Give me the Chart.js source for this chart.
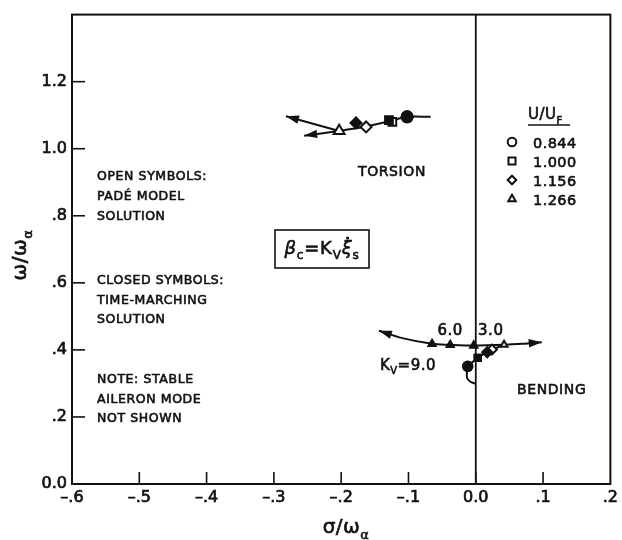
<!DOCTYPE html>
<html>
<head>
<meta charset="utf-8">
<script src="https://cdn.jsdelivr.net/npm/chart.js@4.4.0/dist/chart.umd.min.js"></script>
<style>
  html, body { margin: 0; padding: 0; background: #fff; }
  #wrap { width: 622px; height: 540px; }
</style>
</head>
<body>
<div id="wrap"><canvas id="c" width="622" height="540"></canvas></div>
<script>
// ---- axis tick labels ----
const xTickLabels = ['\u2013.6', '\u2013.5', '\u2013.4', '\u2013.3', '\u2013.2', '\u2013.1', '0.0', '.1', '.2'];
const yTickLabels = ['0.0', '.2', '.4', '.6', '.8', '1.0', '1.2'];

// ---- speed ratio legend (U/U_F) and symbols ----
const speedRatios = ['0.844', '1.000', '1.156', '1.266'];
const speedSymbols = ['circle', 'rect', 'rectRot', 'triangle'];

// ---- torsion branch (K_V = 0) ----
const torsionPathX = [-0.067, -0.102, -0.126, -0.163, -0.203, -0.255];
const torsionPathY = [1.095, 1.095, 1.083, 1.066, 1.053, 1.039];
const torsionBranchX = [-0.203, -0.282];
const torsionBranchY = [1.053, 1.097];
const torsionPadeX = [-0.102, -0.124, -0.163, -0.203];
const torsionPadeY = [1.095, 1.080, 1.065, 1.053];
const torsionTimeX = [-0.102, -0.129, -0.178];
const torsionTimeY = [1.095, 1.085, 1.077];

// ---- bending branch (K_V = 0), rising with U/U_F ----
const bendingPathX = [0.000, -0.008, -0.013, -0.013, -0.012, 0.003, 0.019, 0.042];
const bendingPathY = [0.299, 0.305, 0.317, 0.337, 0.351, 0.375, 0.396, 0.415];
const bendingPadeX = [-0.012, 0.003, 0.024, 0.042];
const bendingPadeY = [0.351, 0.376, 0.401, 0.415];
const bendingTimeX = [-0.012, 0.003, 0.017];
const bendingTimeY = [0.351, 0.376, 0.393];

// ---- K_V gain sweep at U/U_F = 1.266 ----
const gainSweepX = [-0.144, -0.109, -0.065, -0.038, -0.003, 0.042, 0.069, 0.098];
const gainSweepY = [0.457, 0.435, 0.418, 0.415, 0.413, 0.415, 0.418, 0.423];
const gainLabels = ['9.0', '6.0', '3.0'];
const gainPointX = [-0.065, -0.038, -0.003];
const gainPointY = [0.418, 0.415, 0.413];

const ink = '#111';
const FAM = '"DejaVu Sans", "Liberation Sans", sans-serif';

const pts = (xs, ys) => xs.map((v, i) => ({ x: v, y: ys[i] }));

function lineSet(xs, ys, arrow, tension) {
  return {
    type: 'line', data: pts(xs, ys), borderColor: ink, borderWidth: 2,
    pointRadius: 0, fill: false, tension: tension, order: 3, arrow: arrow
  };
}
function markSet(xs, ys, styles, radii, filled) {
  return {
    type: 'scatter', data: pts(xs, ys), showLine: false,
    pointStyle: styles, pointRadius: radii, pointHoverRadius: radii,
    pointBackgroundColor: filled ? ink : '#fff', pointBorderColor: ink,
    pointBorderWidth: 2, order: filled ? 1 : 2
  };
}

// draw a run of text pieces; kind: 'n' normal, 's' subscript, 'i' italic
function rich(ctx, parts, x, y, size, align, spacing) {
  const fontFor = k => (k === 'i' ? 'italic ' : '') + (k === 's' ? Math.round(size * 0.65) : size) + 'px ' + FAM;
  ctx.letterSpacing = (spacing || 0) + 'px';
  let w = 0;
  parts.forEach(([t, k]) => { ctx.font = fontFor(k); w += ctx.measureText(t).width; });
  let cx = align === 'center' ? x - w / 2 : align === 'right' ? x - w : x;
  const boxes = [];
  ctx.textAlign = 'left';
  ctx.textBaseline = 'alphabetic';
  ctx.lineWidth = 0.6;
  ctx.strokeStyle = ink;
  parts.forEach(([t, k]) => {
    ctx.font = fontFor(k);
    const mw = ctx.measureText(t).width;
    const ty = k === 's' ? y + size * 0.3 : y;
    ctx.fillText(t, cx, ty);
    ctx.strokeText(t, cx, ty);
    boxes.push([cx, mw]);
    cx += mw;
  });
  ctx.letterSpacing = '0px';
  return boxes;
}

function arrowHead(ctx, fx, fy, tx, ty) {
  const a = Math.atan2(ty - fy, tx - fx);
  const len = 13, half = 4.2;
  ctx.beginPath();
  ctx.moveTo(tx, ty);
  ctx.lineTo(tx - len * Math.cos(a) + half * Math.sin(a), ty - len * Math.sin(a) - half * Math.cos(a));
  ctx.lineTo(tx - len * Math.cos(a) - half * Math.sin(a), ty - len * Math.sin(a) + half * Math.cos(a));
  ctx.closePath();
  ctx.fill();
}

const decor = {
  id: 'decor',
  beforeDatasetsDraw(chart) {
    const { ctx, chartArea: a, scales: { x, y } } = chart;
    ctx.save();
    ctx.strokeStyle = ink;
    ctx.lineWidth = 2;
    ctx.strokeRect(a.left, a.top, a.right - a.left, a.bottom - a.top);
    const x0 = x.getPixelForValue(0);
    ctx.lineWidth = 1.8;
    ctx.beginPath(); ctx.moveTo(x0, a.top); ctx.lineTo(x0, a.bottom); ctx.stroke();
    ctx.lineWidth = 1.6;
    y.ticks.forEach((t, i) => {
      if (i === 0 || yTickLabels[i] === undefined) return;
      const py = y.getPixelForValue(t.value);
      ctx.beginPath(); ctx.moveTo(a.left, py); ctx.lineTo(a.left + 13, py); ctx.stroke();
    });
    x.ticks.forEach((t, i) => {
      if (i === 0 || i === x.ticks.length - 1) return;
      const px = x.getPixelForValue(t.value);
      ctx.beginPath(); ctx.moveTo(px, a.bottom); ctx.lineTo(px, a.bottom - 12); ctx.stroke();
    });
    ctx.restore();
  },
  afterDatasetsDraw(chart) {
    const { ctx, scales: { x, y } } = chart;
    ctx.save();
    ctx.fillStyle = ink;
    ctx.strokeStyle = ink;

    // arrowheads at the ends of the root-locus curves
    chart.data.datasets.forEach((ds, i) => {
      if (!ds.arrow) return;
      const p = chart.getDatasetMeta(i).data;
      const n = p.length;
      if (ds.arrow === 'end' || ds.arrow === 'both') {
        const q = p[n - 1];
        const useCp = q.cp1x !== undefined && Math.hypot(q.cp1x - q.x, q.cp1y - q.y) > 1;
        arrowHead(ctx, useCp ? q.cp1x : p[n - 2].x, useCp ? q.cp1y : p[n - 2].y, q.x, q.y);
      }
      if (ds.arrow === 'both') {
        const q = p[0];
        const useCp = q.cp2x !== undefined && Math.hypot(q.cp2x - q.x, q.cp2y - q.y) > 1;
        arrowHead(ctx, useCp ? q.cp2x : p[1].x, useCp ? q.cp2y : p[1].y, q.x, q.y);
      }
    });

    // axis titles
    rich(ctx, [['\u03c3/\u03c9', 'n'], ['\u03b1', 's']], 346, 533, 20, 'center', 0.5);
    ctx.save();
    ctx.translate(20, 255);
    ctx.rotate(-Math.PI / 2);
    rich(ctx, [['\u03c9/\u03c9', 'n'], ['\u03b1', 's']], 0, 6, 20, 'center', 0.5);
    ctx.restore();

    // notes at left
    const notes = [
      ['OPEN SYMBOLS:', 175], ['PAD\u00c9 MODEL', 195], ['SOLUTION', 215],
      ['CLOSED SYMBOLS:', 279], ['TIME-MARCHING', 299], ['SOLUTION', 318],
      ['NOTE: STABLE', 378], ['AILERON MODE', 398], ['NOT SHOWN', 417]
    ];
    notes.forEach(([t, yc]) => rich(ctx, [[t, 'n']], 97, yc + 4.5, 12.5, 'left', 0.6));

    // mode names
    rich(ctx, [['TORSION', 'n']], 358, 175.5, 14, 'left', 0.6);
    rich(ctx, [['BENDING', 'n']], 517, 393.5, 14, 'left', 0.6);

    // gain labels along the K_V sweep
    const g6x = x.getPixelForValue(gainPointX[1]);
    const g3x = x.getPixelForValue(gainPointX[2]);
    const g9x = x.getPixelForValue(gainPointX[0]);
    const gy = y.getPixelForValue(gainPointY[1]);
    rich(ctx, [[gainLabels[1], 'n']], g6x, gy - 10, 15, 'center', 0.5);
    rich(ctx, [[gainLabels[2], 'n']], g3x + 17, gy - 10, 15, 'center', 0.5);
    rich(ctx, [['K', 'n'], ['V', 's'], ['=' + gainLabels[0], 'n']], g9x + 4, gy + 25, 15, 'right', 0.5);

    // control law box
    ctx.lineWidth = 1.6;
    ctx.strokeRect(275, 230, 94, 38);
    const b = rich(ctx, [['\u03b2', 'i'], ['c', 's'], ['=K', 'n'], ['V', 's'], ['\u03be', 'i'], ['s', 's']], 322, 254, 18, 'center', 0.8);
    const xi = b[4];
    ctx.beginPath();
    ctx.arc(xi[0] + xi[1] * 0.55, 254 - 16, 1.6, 0, Math.PI * 2);
    ctx.fill();

    // speed ratio key
    rich(ctx, [['U/U', 'n'], ['F', 's']], 528, 119, 15, 'left', 0.5);
    ctx.lineWidth = 1.6;
    ctx.beginPath(); ctx.moveTo(528, 125); ctx.lineTo(570, 125); ctx.stroke();
    speedRatios.forEach((lab, i) => {
      const ry = 142 + i * 19;
      ctx.fillStyle = '#fff';
      ctx.strokeStyle = ink;
      ctx.lineWidth = 2;
      Chart.helpers.drawPoint(ctx, { pointStyle: speedSymbols[i], radius: speedSymbols[i] === 'rect' ? 5 : 4.3, rotation: 0, borderWidth: 2 }, 512, ry);
      ctx.fillStyle = ink;
      rich(ctx, [[lab, 'n']], 533, ry + 5.5, 14.5, 'left', 0.4);
    });
    ctx.restore();
  }
};

new Chart(document.getElementById('c'), {
  type: 'scatter',
  data: {
    datasets: [
      lineSet(torsionPathX, torsionPathY, 'end', 0.3),
      lineSet(torsionBranchX, torsionBranchY, 'end', 0),
      lineSet(bendingPathX, bendingPathY, null, 0.3),
      lineSet(gainSweepX, gainSweepY, 'both', 0.35),
      markSet(torsionPadeX, torsionPadeY, speedSymbols, [5.5, 5.5, 5.5, 6.3], false),
      markSet(torsionTimeX, torsionTimeY, ['circle', 'rect', 'rectRot'], [5.5, 5.5, 5.5], true),
      markSet(bendingPadeX, bendingPadeY, speedSymbols, [4.5, 4.5, 5, 4], false),
      markSet(bendingTimeX, bendingTimeY, ['circle', 'rect', 'rectRot'], [4.8, 4.5, 5], true),
      markSet(gainPointX, gainPointY, 'triangle', 4.2, true)
    ]
  },
  options: {
    responsive: false,
    animation: false,
    events: [],
    layout: { padding: { top: 10, right: 9, left: 0, bottom: 0 } },
    plugins: { legend: { display: false }, tooltip: { enabled: false } },
    scales: {
      x: {
        type: 'linear', min: -0.6, max: 0.2,
        afterFit: s => { s.height = 56; },
        grid: { display: false, drawTicks: false },
        border: { display: false },
        ticks: {
          stepSize: 0.1, autoSkip: false, maxRotation: 0, padding: 4,
          color: ink, font: { family: FAM, size: 16 },
          textStrokeColor: ink, textStrokeWidth: 0.7,
          callback: (v, i) => xTickLabels[i]
        }
      },
      y: {
        type: 'linear', min: 0, max: 1.4,
        afterFit: s => { s.width = 72; },
        grid: { display: false, drawTicks: false },
        border: { display: false },
        ticks: {
          stepSize: 0.2, autoSkip: false, padding: 5,
          color: ink, font: { family: FAM, size: 16 },
          textStrokeColor: ink, textStrokeWidth: 0.7,
          callback: (v, i) => yTickLabels[i]
        }
      }
    }
  },
  plugins: [decor]
});
</script>
</body>
</html>
